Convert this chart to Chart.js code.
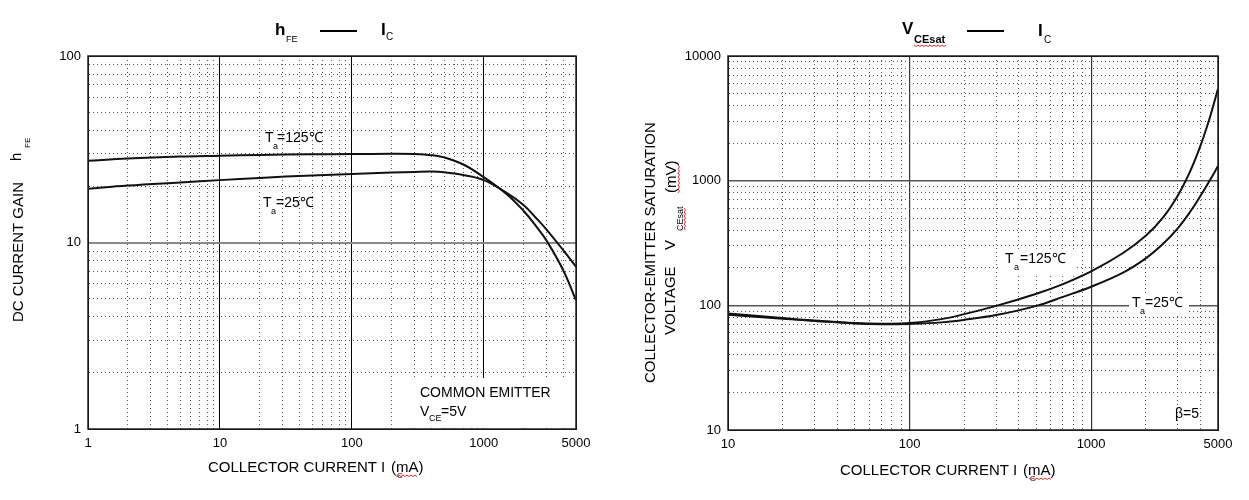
<!DOCTYPE html>
<html>
<head>
<meta charset="utf-8">
<script src="https://cdn.jsdelivr.net/npm/chart.js"></script>
<style>
  body { margin: 0; background: #fff; }
  #wrap { position: relative; width: 1249px; height: 500px; background: #fff; }
  canvas { position: absolute; top: 0; }
</style>
</head>
<body>
<div id="wrap">
  <canvas id="hfeChart" width="620" height="500" style="left:0"></canvas>
  <canvas id="satChart" width="619" height="500" style="left:630px"></canvas>
</div>
<script>
// hFE vs IC (left)
const hfeCurrent = [1, 2, 5, 10, 20, 50, 100, 200, 300, 400, 500, 700, 1000, 1500, 2000, 2500, 3000, 4000, 5000];
const hfe125 = [27.4, 28.2, 28.9, 29.2, 29.5, 29.7, 29.8, 29.9, 29.8, 29.4, 28.6, 26.2, 22.4, 18.1, 14.8, 12.2, 10.2, 7.1, 4.9];
const hfe25  = [19.4, 20.2, 21.0, 21.6, 22.2, 22.9, 23.3, 23.7, 23.9, 24.0, 23.8, 23.0, 21.6, 18.4, 15.9, 13.5, 11.7, 9.1, 7.4];
const hfeXLabels = [1, 10, 100, 1000, 5000];
const hfeYLabels = [1, 10, 100];

// VCEsat vs IC (right)
const satCurrent = [10, 20, 30, 50, 70, 100, 150, 200, 300, 500, 700, 1000, 1500, 2000, 2500, 3000, 3500, 4000, 4500, 5000];
const sat125 = [86, 79, 75.5, 72, 71.3, 72, 77.5, 85, 99, 124, 148, 187, 263, 361, 510, 757, 1175, 1900, 3180, 5450];
const sat25  = [84, 78, 75, 71.5, 70.5, 71, 73, 76.5, 83.5, 99, 117, 141, 183, 238, 313, 415, 559, 754, 1003, 1309];
const satXLabels = [10, 100, 1000, 5000];
const satYLabels = [10, 100, 1000, 10000];

const FAMILY = '"Liberation Sans", Arial, sans-serif';
const tickFont = { family: FAMILY, size: 13 };

// 1..9 steps of every decade between lo and hi
function logTicks(lo, hi) {
  const out = [];
  for (let d = lo; d < hi; d *= 10) {
    for (let m = 1; m <= 9; m++) {
      if (d * m <= hi) out.push(d * m);
    }
  }
  if (out[out.length - 1] !== hi) out.push(hi);
  return out;
}
const isDecade = v => Math.abs(Math.log10(v) - Math.round(Math.log10(v))) < 1e-9;

function txt(ctx, s, x, y, size, bold) {
  ctx.font = (bold ? 'bold ' : '') + size + 'px ' + FAMILY;
  ctx.textAlign = 'left';
  ctx.textBaseline = 'alphabetic';
  ctx.fillStyle = '#000';
  ctx.fillText(s, x, y);
}
// rotated text reading upward: baseline at screen x, starting at screen y
function vtxt(ctx, s, x, y, size) {
  ctx.save();
  ctx.translate(x, y);
  ctx.rotate(-Math.PI / 2);
  txt(ctx, s, 0, 0, size);
  ctx.restore();
}
function squiggle(ctx, x1, x2, y) {
  ctx.save();
  ctx.strokeStyle = '#e03030';
  ctx.lineWidth = 1;
  ctx.beginPath();
  for (let x = x1, i = 0; x <= x2; x += 2, i++) {
    const yy = y + (i % 2 ? 1.5 : 0);
    i ? ctx.lineTo(x, yy) : ctx.moveTo(x, yy);
  }
  ctx.stroke();
  ctx.restore();
}
function vsquiggle(ctx, x, y1, y2) {
  ctx.save();
  ctx.strokeStyle = '#e03030';
  ctx.lineWidth = 1;
  ctx.beginPath();
  for (let y = y1, i = 0; y <= y2; y += 2, i++) {
    const xx = x + (i % 2 ? 1.5 : 0);
    i ? ctx.lineTo(xx, y) : ctx.moveTo(xx, y);
  }
  ctx.stroke();
  ctx.restore();
}

function logAxis(pos, min, max, labels, size, decadeStyle) {
  const all = logTicks(min, max);
  const solid = v => v === min || v === max || isDecade(v);
  const axis = {
    type: 'logarithmic',
    position: pos,
    min: min,
    max: max,
    afterBuildTicks: s => { s.ticks = all.map(v => ({ value: v })); },
    ticks: {
      autoSkip: false,
      maxRotation: 0,
      color: '#000',
      font: tickFont,
      padding: 7,
      callback: v => labels.includes(v) ? String(v) : ''
    },
    grid: {
      drawTicks: false,
      color: c => {
        const v = c.tick.value;
        if (v === min || v === max) return '#000';
        if (isDecade(v)) return decadeStyle.color;
        return '#555';
      },
      lineWidth: c => {
        const v = c.tick.value;
        if (v !== min && v !== max && isDecade(v)) return decadeStyle.width;
        return 1;
      }
    },
    border: {
      color: '#000',
      width: 1,
      dash: c => (c.tick && !solid(c.tick.value)) ? [1, 3] : []
    }
  };
  if (pos === 'left') axis.afterFit = s => { s.width = size; };
  else axis.afterFit = s => { s.height = size; };
  return axis;
}

function lineSet(xs, ys) {
  return {
    data: xs.map((x, i) => ({ x: x, y: ys[i] })),
    borderColor: '#111',
    borderWidth: 2,
    pointRadius: 0,
    fill: false,
    tension: 0.4
  };
}

function frame(chart) {
  const { ctx, chartArea: a } = chart;
  ctx.save();
  ctx.strokeStyle = '#222';
  ctx.lineWidth = 1.5;
  ctx.strokeRect(a.left, a.top, a.right - a.left, a.bottom - a.top);
  ctx.restore();
}

const hfeDecor = {
  id: 'hfeDecor',
  beforeDatasetsDraw(chart) {
    const ctx = chart.ctx;
    ctx.save();
    ctx.fillStyle = '#fff';
    ctx.fillRect(412, 378, 163, 50);
    ctx.restore();
  },
  afterDraw(chart) {
    const ctx = chart.ctx;
    frame(chart);
    // title
    txt(ctx, 'h', 275, 35, 17, true);
    txt(ctx, 'FE', 286, 42, 9);
    ctx.fillStyle = '#000';
    ctx.fillRect(320, 30, 37, 2);
    txt(ctx, 'I', 381, 35, 17, true);
    txt(ctx, 'C', 386, 40, 10);
    // y title
    vtxt(ctx, 'DC CURRENT GAIN', 23, 322, 15);
    vtxt(ctx, 'h', 21, 161, 15);
    vtxt(ctx, 'FE', 30, 148, 8);
    // x title
    txt(ctx, 'COLLECTOR CURRENT I', 208, 472, 15);
    txt(ctx, '(mA)', 391, 472, 15);
    txt(ctx, 'C', 397, 478, 8);
    squiggle(ctx, 395, 417, 475);
    // curve labels
    txt(ctx, 'T', 265, 142, 14);
    txt(ctx, 'a', 273, 149, 9);
    txt(ctx, '=125℃', 277, 142, 14);
    txt(ctx, 'T', 263, 207, 14);
    txt(ctx, 'a', 271, 214, 9);
    txt(ctx, '=25℃', 276, 207, 14);
    // condition
    txt(ctx, 'COMMON EMITTER', 420, 397, 14);
    txt(ctx, 'V', 420, 416, 14);
    txt(ctx, '=5V', 441, 416, 14);
    txt(ctx, 'CE', 429, 421, 9);
  }
};

const satDecor = {
  id: 'satDecor',
  beforeDatasetsDraw(chart) {
    const ctx = chart.ctx;
    ctx.save();
    ctx.translate(-630, 0);
    ctx.fillStyle = '#fff';
    ctx.fillRect(1001, 249, 74, 24);
    ctx.fillRect(1129, 294, 60, 22);
    ctx.restore();
  },
  afterDraw(chart) {
    const ctx = chart.ctx;
    frame(chart);
    ctx.save();
    ctx.translate(-630, 0);
    // title
    txt(ctx, 'V', 902, 34, 17, true);
    txt(ctx, 'CEsat', 914, 43, 11, true);
    squiggle(ctx, 914, 946, 45);
    ctx.fillStyle = '#000';
    ctx.fillRect(967, 30, 37, 2);
    txt(ctx, 'I', 1038, 36, 17, true);
    txt(ctx, 'C', 1044, 43, 10);
    // y title
    vtxt(ctx, 'COLLECTOR-EMITTER SATURATION', 655, 383, 15);
    vtxt(ctx, 'VOLTAGE', 675, 335, 15);
    vtxt(ctx, 'V', 675, 250, 15);
    vtxt(ctx, 'CEsat', 683, 231, 9);
    vsquiggle(ctx, 684, 208, 231);
    vtxt(ctx, '(mV)', 676, 193, 15);
    vsquiggle(ctx, 678, 165, 193);
    // x title
    txt(ctx, 'COLLECTOR CURRENT I', 840, 475, 15);
    txt(ctx, '(mA)', 1023, 475, 15);
    txt(ctx, 'C', 1030, 481, 8);
    squiggle(ctx, 1029, 1051, 478);
    // curve labels
    txt(ctx, 'T', 1005, 263, 14);
    txt(ctx, 'a', 1014, 270, 9);
    txt(ctx, '=125℃', 1020, 263, 14);
    txt(ctx, 'T', 1132, 307, 14);
    txt(ctx, 'a', 1140, 314, 9);
    txt(ctx, '=25℃', 1145, 307, 14);
    txt(ctx, 'β=5', 1175, 418, 14);
    ctx.restore();
  }
};

const common = {
  responsive: false,
  animation: false,
  plugins: { legend: { display: false }, tooltip: { enabled: false } }
};

new Chart(document.getElementById('hfeChart'), {
  type: 'line',
  data: { datasets: [lineSet(hfeCurrent, hfe125), lineSet(hfeCurrent, hfe25)] },
  options: {
    ...common,
    layout: { padding: { top: 56, right: 44, bottom: 0, left: 0 } },
    scales: {
      x: logAxis('bottom', 1, 5000, hfeXLabels, 71, { color: '#000', width: 1 }),
      y: logAxis('left', 1, 100, hfeYLabels, 88, { color: '#8a8a8a', width: 2 })
    }
  },
  plugins: [hfeDecor]
});

new Chart(document.getElementById('satChart'), {
  type: 'line',
  data: { datasets: [lineSet(satCurrent, sat125), lineSet(satCurrent, sat25)] },
  options: {
    ...common,
    layout: { padding: { top: 56, right: 31, bottom: 0, left: 0 } },
    scales: {
      x: logAxis('bottom', 10, 5000, satXLabels, 70, { color: '#333', width: 1.2 }),
      y: logAxis('left', 10, 10000, satYLabels, 98, { color: '#555', width: 1.5 })
    }
  },
  plugins: [satDecor]
});
</script>
</body>
</html>
